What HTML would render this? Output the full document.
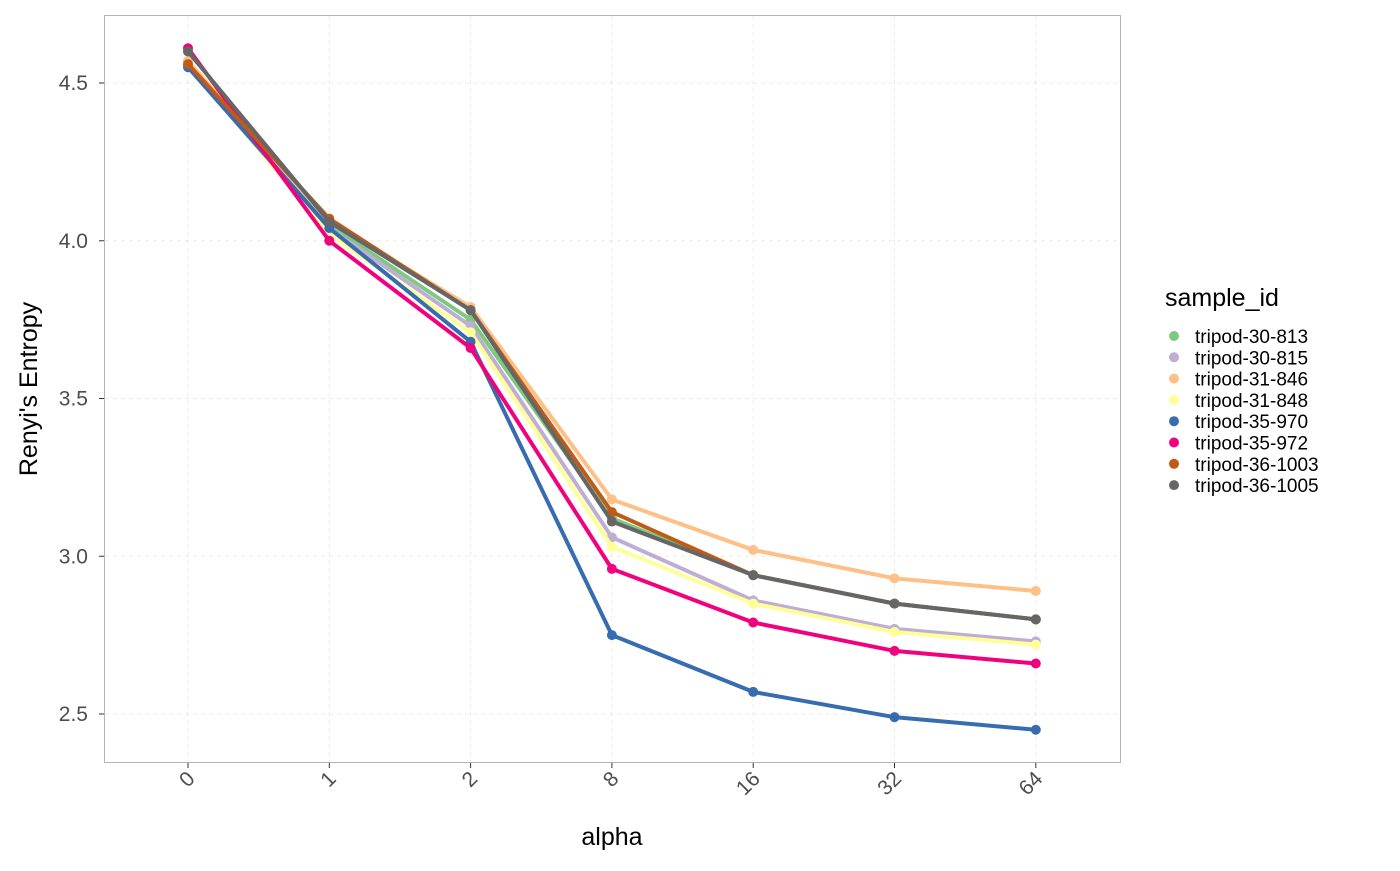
<!DOCTYPE html>
<html><head><meta charset="utf-8"><style>body{margin:0;background:#fff}text{font-family:"Liberation Sans","DejaVu Sans",sans-serif}</style></head>
<body>
<svg id="chart" width="1400" height="866" xmlns="http://www.w3.org/2000/svg">
<rect x="104.5" y="15.5" width="1016" height="747" fill="#fff" stroke="#b3b3b3"/>
<g id="grid"></g><g id="series"></g><g id="axes"></g><g id="legend"></g>
<text x="612" y="845" font-size="25" text-anchor="middle">alpha</text>
<text transform="translate(37,389) rotate(-90)" font-size="25" text-anchor="middle">Renyi's Entropy</text>
<text x="1165" y="306" font-size="25">sample_id</text>
</svg>
<script>
const categories=["0","1","2","8","16","32","64"];
const sampleNames=["tripod-30-813","tripod-30-815","tripod-31-846","tripod-31-848","tripod-35-970","tripod-35-972","tripod-36-1003","tripod-36-1005"];
const colors=["#7FC97F","#BEAED4","#FDC086","#FFFF99","#386CB0","#F0027F","#BF5B17","#666666"];
const s813=[4.56,4.05,3.75,3.12,2.94,2.85,2.80];
const s815=[4.56,4.04,3.73,3.06,2.86,2.77,2.73];
const s846=[4.57,4.06,3.79,3.18,3.02,2.93,2.89];
const s848=[4.56,4.02,3.71,3.03,2.85,2.76,2.72];
const s970=[4.55,4.04,3.68,2.75,2.57,2.49,2.45];
const s972=[4.61,4.00,3.66,2.96,2.79,2.70,2.66];
const s1003=[4.56,4.07,3.78,3.14,2.94,2.85,2.80];
const s1005=[4.60,4.06,3.78,3.11,2.94,2.85,2.80];
const yTicks=[2.5,3.0,3.5,4.0,4.5];
const seriesValues=[s813,s815,s846,s848,s970,s972,s1003,s1005];
const NS="http://www.w3.org/2000/svg";
const xs=i=>188+i*141.3;
const ys=v=>83+(4.5-v)*315.5;
function mk(t,p,a){const e=document.createElementNS(NS,t);for(const k in a)e.setAttribute(k,a[k]);p.appendChild(e);return e;}
const grid=document.getElementById('grid'),axes=document.getElementById('axes'),ser=document.getElementById('series'),leg=document.getElementById('legend');
yTicks.forEach(v=>{
 const l=mk('line',grid,{x1:105,x2:1120,y1:ys(v),y2:ys(v),stroke:'#ebebeb','stroke-dasharray':'4,4'});
 
 
 const t=mk('text',axes,{x:88,y:ys(v)+7,'font-size':21,fill:'#4d4d4d','text-anchor':'end'});t.textContent=v.toFixed(1);
 
 
 mk('line',axes,{x1:99,x2:104,y1:ys(v),y2:ys(v),stroke:'#333'});
});
categories.forEach((c,i)=>{
 const l=mk('line',grid,{x1:xs(i),x2:xs(i),y1:16,y2:762,stroke:'#ebebeb','stroke-dasharray':'4,4'});
 
 
 mk('line',axes,{x1:xs(i),x2:xs(i),y1:763,y2:768,stroke:'#333'});
 const t=mk('text',axes,{transform:`translate(${xs(i)+8},${780}) rotate(-45)`,'font-size':21,fill:'#4d4d4d','text-anchor':'end'});t.textContent=c;
 
 
});
seriesValues.forEach((vals,k)=>{
 const g=mk('g',ser,{});
 
 
 const p=mk('polyline',g,{points:vals.map((v,i)=>xs(i)+','+ys(v)).join(' '),fill:'none',stroke:colors[k],'stroke-width':4,'stroke-linejoin':'round'});
 
 
 vals.forEach((v,i)=>{const c=mk('circle',g,{cx:xs(i),cy:ys(v),r:5,fill:colors[k]});
  
  });
});
sampleNames.forEach((n,k)=>{
 const y=336+k*21.3;
 const g=mk('g',leg,{});
 
 
 mk('circle',g,{cx:1174,cy:y,r:5,fill:colors[k]});
 const t=mk('text',g,{x:1195,y:y+7,'font-size':19});t.textContent=n;
});
</script>
</body></html>
